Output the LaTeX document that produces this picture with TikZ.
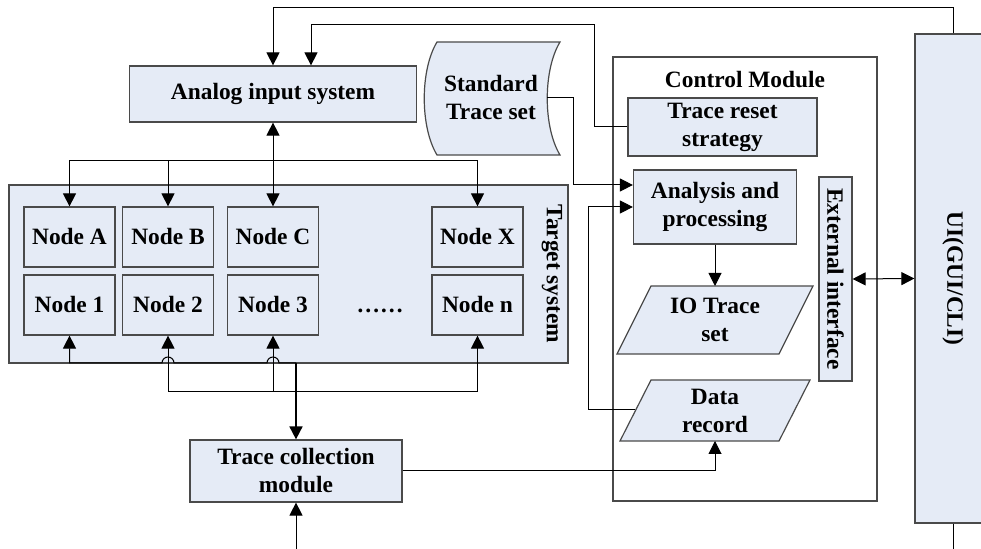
\documentclass[tikz,border=0pt]{standalone}
\usepackage{fontspec}
\setmainfont{Liberation Serif}
\usepackage{tikz}
\usetikzlibrary{calc,arrows.meta}
\definecolor{fillb}{HTML}{E5EBF6}
\definecolor{edge}{HTML}{4A4A4A}
\newcommand{\diagfont}{\fontsize{11.7}{14}\selectfont\bfseries}
\tikzset{
  sz/.style 2 args={minimum width=#1*0.5pt, minimum height=#2*0.5pt},
  shp/.style={draw=edge, fill=fillb, line width=0.6pt},
  frame/.style={draw=edge, line width=0.6pt, inner sep=0pt},
  box/.style={shp, inner sep=0pt, align=center, font=\diagfont},
  lab/.style={inner sep=0pt, align=center, font=\diagfont},
  wire/.style={draw=black, line width=0.5pt},
  arr/.style={wire, -{Triangle[length=6.5pt,width=6.5pt]}},
  dbl/.style={wire, {Triangle[length=6.5pt,width=6.5pt]}-{Triangle[length=6.5pt,width=6.5pt]}},
}

\begin{document}
\begin{tikzpicture}[x=0.5pt,y=-0.5pt]
  \clip (0,0) rectangle (981,549);
  % frames
  \node[frame, sz={264}{444}] (ctrl) at (745,279) {};
  \node[lab] (ctrllab) at (745,80) {Control Module};
  \node[box, sz={559}{178}] (tgt) at (288.5,274) {};
  \node[lab, rotate=-90] (tgtlab) at (552,274) {Target system};
  % left side
  \node[box, sz={287}{56}] (analog) at (273,94) {Analog input system};
  \draw[shp] (437,42) -- (560,42) .. controls (543,70) and (543,127) .. (560,155)
    -- (437,155) .. controls (420,127) and (420,70) .. cycle;
  \node[lab] (std) at (491,98) {Standard\\Trace set};
  \coordinate (stdR) at (547,98);
  \foreach \id/\x in {A/69.5,B/168,C/273,X/477.5}
    \node[box, sz={91}{60}] (n\id) at (\x,237) {Node \id};
  \foreach \id/\x in {1/69.5,2/168,3/273,n/477.5}
    \node[box, sz={91}{60}] (n\id) at (\x,305) {Node \id};
  \node[lab] (dots) at (380,311) {……};
  \node[box, sz={212}{62}] (coll) at (296,471) {Trace collection\\module};
  % control module
  \node[box, sz={189}{58}] (reset) at (722.5,127) {Trace reset\\strategy};
  \node[box, sz={163}{74}] (ana) at (715,207) {Analysis and\\processing};
  \draw[shp] (651,286) -- (813,286) -- (779,354) -- (617,354) -- cycle;
  \node[lab] (io) at (715,320) {IO Trace\\set};
  \draw[shp] (651,380) -- (810,380) -- (779,441) -- (620,441) -- cycle;
  \node[lab] (rec) at (715,410.5) {Data\\record};
  \coordinate (ioT) at (715,286);
  \coordinate (recB) at (715,441);
  \coordinate (recL) at (635,410);
  \node[shp, sz={33}{204}] (ext) at (835.5,279) {};
  \node[lab, rotate=-90] (extlab) at (ext) {External interface};
  \node[shp, sz={76}{489}] (ui) at (953,278.5) {};
  \node[lab, rotate=-90] (uilab) at (ui) {UI(GUI/CLI)};
  % connectors
  \draw[arr] (ui.north) |- (273,8) -- (analog.north);
  \draw[arr] (reset.west) -- (594,127) |- (311,25) -- ($(analog.north)+(38,0)$);
  \coordinate (j1) at (273,161);
  \draw[arr] (j1) -- (analog.south);
  \draw[arr] (j1) -- (nC.north);
  \draw[arr] (j1) -| (nA.north);
  \draw[arr] (j1) -| (nB.north);
  \draw[arr] (j1) -| (nX.north);
  \draw[arr] (stdR) -- (573,98) |- ($(ana.west)+(0,-22)$);
  \draw[arr] (recL) -- (588,410) |- (ana.west);
  \draw[arr] (ana.south) -- (ioT);
  \draw[arr] (coll.east) -| (recB);
  \draw[dbl] (ext.east) -- (ui.west);
  \draw[wire] (ui.south) -- (953,549);
  \draw[arr] (296,549) -- (coll.south);
  \coordinate (j2) at (296,363);
  \draw[arr, line width=0.9pt] (j2) -- (coll.north);
  \draw[arr] (j2) -- (279,363) arc[start angle=0,end angle=-180,radius=6]
    -- (174,363) arc[start angle=0,end angle=-180,radius=6] -- (69.5,363) -- (n1.south);
  \coordinate (j3) at (168,392);
  \coordinate (j4) at (477.5,392);
  \draw[wire] (j3) -- (j4);
  \draw[arr] (j3) -- (n2.south);
  \draw[arr] (273,392) -- (n3.south);
  \draw[arr] (j4) -- (nn.south);
\end{tikzpicture}
\end{document}
